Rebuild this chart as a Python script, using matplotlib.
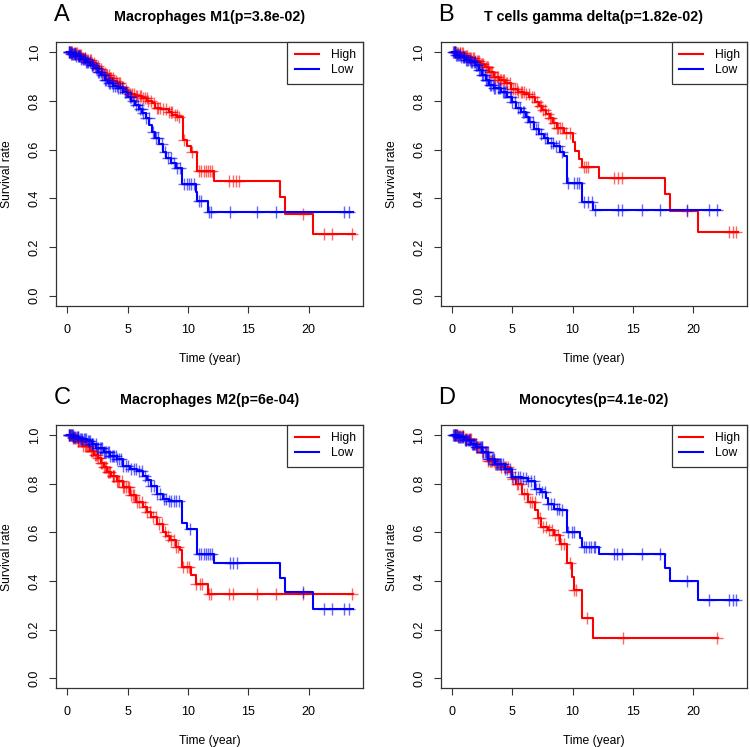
import numpy as np
import matplotlib
matplotlib.use("Agg")
import matplotlib.pyplot as plt
from matplotlib.lines import Line2D

plt.rcParams['font.family'] = ['Liberation Sans', 'DejaVu Sans']

# ---- data ----
letters = ["A", "B", "C", "D"]
titles = ["Macrophages M1(p=3.8e-02)", "T cells gamma delta(p=1.82e-02)",
          "Macrophages M2(p=6e-04)", "Monocytes(p=4.1e-02)"]

# panel A
a_high_t = [0, 0.4, 0.8, 1.2, 1.6, 2.0, 2.3, 2.6, 2.9, 3.2, 3.5, 3.8, 4.1, 4.4, 4.7, 5.0, 5.6, 6.2, 6.6,
            7.0, 7.3, 7.8, 8.4, 8.7, 9.1, 9.56, 9.94, 10.25, 10.72, 12.18, 17.62, 18.06, 20.38]
a_high_s = [1.0, 0.995, 0.988, 0.978, 0.968, 0.955, 0.943, 0.93, 0.915, 0.905, 0.895, 0.882, 0.872, 0.858,
            0.845, 0.828, 0.822, 0.81, 0.8, 0.79, 0.772, 0.765, 0.755, 0.742, 0.735, 0.64, 0.615, 0.59,
            0.514, 0.473, 0.405, 0.336, 0.253]
a_high_end = 23.8
a_high_cens = [0.15, 0.22, 0.3, 0.36, 0.42, 0.55, 0.62, 0.7, 0.78, 0.88, 0.95, 1.02, 1.1, 1.25, 1.33, 1.42,
               1.5, 1.6, 1.7, 1.85, 1.95, 2.05, 2.2, 2.3, 2.4, 2.55, 2.65, 2.75, 2.95, 3.1, 3.2, 3.3,
               3.45, 3.55, 3.65, 3.78, 3.9, 4.05, 4.15, 4.25, 4.38, 4.5, 4.65, 4.85, 5.1, 5.22, 5.35,
               5.55, 5.68, 5.8, 6.0, 6.12, 6.25, 6.45, 6.58, 6.7, 6.95, 7.15, 7.4, 7.52, 7.65, 7.9,
               8.2, 8.45, 8.55, 8.65, 8.9, 9.05, 9.25, 9.7, 10.3, 10.9, 11.1, 11.3, 11.5, 11.65, 11.85,
               12.0, 13.4, 13.75, 13.95, 14.2, 19.5, 21.3, 21.9, 23.6]

a_low_t = [0, 0.3, 0.7, 1.1, 1.5, 1.9, 2.2, 2.5, 2.8, 3.1, 3.4, 3.8, 4.2, 4.6, 5.0, 5.3, 5.6, 5.9, 6.2,
           6.5, 6.8, 7.0, 7.3, 7.6, 7.9, 8.2, 8.6, 9.0, 9.53, 10.64, 10.75, 11.65]
a_low_s = [1.0, 0.993, 0.983, 0.972, 0.96, 0.948, 0.935, 0.92, 0.905, 0.885, 0.872, 0.862, 0.852, 0.838,
           0.818, 0.8, 0.782, 0.768, 0.75, 0.728, 0.7, 0.672, 0.648, 0.622, 0.59, 0.565, 0.545, 0.525,
           0.458, 0.424, 0.387, 0.343]
a_low_end = 23.7
a_low_cens = [0.1, 0.16, 0.2, 0.27, 0.32, 0.4, 0.45, 0.52, 0.6, 0.66, 0.72, 0.85, 0.93, 1.0, 1.08, 1.15,
              1.3, 1.36, 1.42, 1.58, 1.65, 1.72, 1.88, 2.0, 2.08, 2.15, 2.35, 2.42, 2.5, 2.65, 2.78,
              2.85, 3.0, 3.12, 3.2, 3.35, 3.45, 3.55, 3.7, 3.82, 3.95, 4.1, 4.22, 4.35, 4.55, 4.75, 4.9,
              5.15, 5.25, 5.4, 5.65, 5.85, 6.05, 6.15, 6.3, 6.55, 6.75, 7.1, 7.35, 7.55, 7.85, 8.1,
              8.35, 8.55, 8.8, 9.1, 9.3, 9.67, 9.9, 10.08, 10.28, 10.5, 10.9, 11.1, 11.77, 11.9, 13.48,
              15.75, 17.27, 22.95, 23.34]

# panel B
b_high_t = [0, 0.4, 0.9, 1.4, 1.9, 2.3, 2.7, 3.1, 3.5, 3.9, 4.4, 4.9, 5.5, 6.0, 6.4, 6.9, 7.2, 7.5, 7.8,
            8.1, 8.4, 8.7, 9.3, 10.0, 10.23, 10.57, 10.76, 12.22, 17.68, 18.12, 20.44]
b_high_s = [1.0, 0.995, 0.985, 0.975, 0.965, 0.953, 0.94, 0.92, 0.9, 0.885, 0.872, 0.848, 0.838, 0.828,
            0.815, 0.797, 0.78, 0.762, 0.745, 0.728, 0.71, 0.69, 0.667, 0.63, 0.595, 0.561, 0.53, 0.485,
            0.417, 0.346, 0.26]
b_high_end = 23.76
b_high_cens = [0.2, 0.28, 0.35, 0.42, 0.5, 0.62, 0.7, 0.8, 0.88, 0.95, 1.1, 1.16, 1.22, 1.4, 1.48, 1.55,
               1.7, 1.8, 1.9, 2.05, 2.15, 2.25, 2.4, 2.5, 2.6, 2.8, 2.88, 2.95, 3.15, 3.22, 3.3, 3.5,
               3.6, 3.7, 3.85, 3.95, 4.05, 4.2, 4.3, 4.45, 4.6, 4.8, 4.9, 5.05, 5.25, 5.35, 5.5, 5.7,
               5.82, 5.95, 6.15, 6.35, 6.6, 6.8, 7.05, 7.3, 7.42, 7.55, 7.75, 8.0, 8.12, 8.25, 8.45,
               8.7, 8.82, 8.95, 9.15, 9.45, 9.75, 10.95, 11.12, 11.3, 13.47, 13.8, 14.08, 19.5, 23.0,
               23.35, 23.54]

b_low_t = [0, 0.3, 0.7, 1.1, 1.5, 1.9, 2.2, 2.5, 2.8, 3.1, 3.5, 4.1, 4.6, 5.0, 5.3, 5.7, 6.1, 6.4, 6.8,
           7.2, 7.6, 8.0, 8.5, 9.0, 9.3, 9.52, 10.76, 11.7]
b_low_s = [1.0, 0.99, 0.98, 0.968, 0.958, 0.946, 0.925, 0.905, 0.885, 0.865, 0.855, 0.838, 0.818, 0.795,
           0.77, 0.756, 0.735, 0.715, 0.685, 0.665, 0.648, 0.627, 0.613, 0.59, 0.572, 0.462, 0.385, 0.353]
b_low_end = 22.24
b_low_cens = [0.1, 0.16, 0.22, 0.28, 0.35, 0.42, 0.48, 0.6, 0.68, 0.75, 0.9, 0.96, 1.02, 1.18, 1.25,
              1.32, 1.48, 1.56, 1.65, 1.8, 1.88, 1.95, 2.1, 2.2, 2.3, 2.45, 2.52, 2.6, 2.75, 2.82, 2.9,
              3.05, 3.15, 3.25, 3.4, 3.5, 3.6, 3.8, 3.9, 4.0, 4.2, 4.3, 4.4, 4.55, 4.8, 4.9, 5.0, 5.2,
              5.45, 5.6, 5.85, 6.0, 6.25, 6.5, 6.7, 6.95, 7.15, 7.4, 7.7, 7.9, 8.2, 8.4, 8.65, 8.85,
              9.1, 9.6, 10.15, 10.35, 10.54, 10.95, 11.25, 11.6, 11.87, 13.8, 14.08, 15.74, 17.26,
              19.53, 21.35, 21.97]

# panel C
c_high_t = [0, 0.4, 0.8, 1.3, 1.9, 2.2, 2.5, 2.8, 3.0, 3.3, 3.6, 4.1, 4.6, 5.2, 5.7, 6.3, 6.6, 6.9, 7.4,
            7.9, 8.2, 8.5, 9.0, 9.3, 9.47, 10.25, 10.64, 11.68]
c_high_s = [1.0, 0.99, 0.975, 0.957, 0.936, 0.92, 0.905, 0.885, 0.868, 0.85, 0.834, 0.813, 0.786, 0.752,
            0.725, 0.704, 0.685, 0.663, 0.636, 0.6, 0.585, 0.568, 0.541, 0.527, 0.459, 0.425, 0.388, 0.347]
c_high_end = 23.7
c_high_cens = [0.15, 0.22, 0.3, 0.38, 0.45, 0.58, 0.65, 0.7, 0.85, 0.92, 1.0, 1.15, 1.22, 1.3, 1.45,
               1.52, 1.6, 1.75, 1.82, 1.92, 2.05, 2.15, 2.25, 2.4, 2.48, 2.55, 2.7, 2.8, 2.9, 3.05,
               3.12, 3.2, 3.4, 3.48, 3.55, 3.75, 3.82, 3.9, 4.1, 4.2, 4.3, 4.5, 4.6, 4.7, 4.9, 5.0, 5.1,
               5.3, 5.4, 5.5, 5.75, 5.95, 6.15, 6.4, 6.6, 6.85, 7.1, 7.35, 7.6, 7.85, 8.1, 8.3, 8.55,
               8.8, 9.0, 9.2, 9.6, 9.9, 10.1, 10.7, 10.98, 11.14, 11.77, 11.9, 13.4, 13.75, 15.75, 17.3,
               19.5, 23.6]

c_low_t = [0, 0.5, 1.0, 1.6, 2.0, 2.4, 3.0, 3.5, 4.1, 4.6, 5.2, 5.8, 6.3, 6.6, 6.9, 7.4, 7.9, 8.4, 9.47,
           9.94, 10.72, 12.18, 17.62, 18.06, 20.38]
c_low_s = [1.0, 0.993, 0.985, 0.977, 0.963, 0.949, 0.929, 0.915, 0.902, 0.875, 0.861, 0.854, 0.834, 0.815,
           0.793, 0.759, 0.738, 0.728, 0.64, 0.613, 0.511, 0.473, 0.412, 0.353, 0.285]
c_low_end = 23.7
c_low_cens = [0.1, 0.16, 0.22, 0.3, 0.36, 0.44, 0.5, 0.58, 0.65, 0.8, 0.86, 0.92, 1.08, 1.15, 1.22, 1.38,
              1.45, 1.52, 1.7, 1.78, 1.85, 2.0, 2.08, 2.15, 2.35, 2.42, 2.5, 2.7, 2.78, 2.85, 3.0, 3.1,
              3.2, 3.35, 3.45, 3.55, 3.7, 3.8, 3.9, 4.05, 4.15, 4.25, 4.45, 4.65, 4.85, 5.05, 5.3, 5.5,
              5.7, 5.95, 6.2, 6.4, 6.7, 6.95, 7.2, 7.45, 7.7, 8.0, 8.2, 8.45, 8.6, 8.8, 9.0, 9.25,
              10.2, 10.9, 11.1, 11.3, 11.5, 11.65, 11.85, 12.0, 13.5, 13.75, 14.05, 19.5, 21.3, 21.9,
              22.95, 23.36]

# panel D
d_high_t = [0, 0.5, 1.0, 1.6, 2.0, 2.5, 3.0, 3.6, 4.1, 4.7, 5.0, 5.3, 5.8, 6.3, 6.9, 7.1, 7.4, 8.0, 8.5,
            9.0, 9.52, 9.99, 10.15, 10.76, 11.7]
d_high_s = [1.0, 0.995, 0.985, 0.963, 0.952, 0.929, 0.895, 0.881, 0.868, 0.847, 0.82, 0.8, 0.759, 0.725,
            0.691, 0.66, 0.622, 0.609, 0.588, 0.554, 0.473, 0.418, 0.364, 0.248, 0.166]
d_high_end = 22.1
d_high_cens = [0.2, 0.28, 0.35, 0.42, 0.5, 0.58, 0.65, 0.8, 0.88, 0.95, 1.1, 1.18, 1.25, 1.4, 1.48,
               1.55, 1.72, 1.8, 1.9, 2.1, 2.18, 2.25, 2.45, 2.52, 2.6, 2.8, 2.9, 3.0, 3.15, 3.25, 3.35,
               3.5, 3.6, 3.7, 3.9, 4.0, 4.1, 4.3, 4.4, 4.5, 4.65, 4.85, 5.1, 5.35, 5.5, 5.75, 6.0, 6.2,
               6.45, 6.65, 6.85, 7.1, 7.3, 7.55, 7.8, 8.05, 8.3, 8.55, 8.8, 9.05, 9.3, 9.8, 10.15,
               10.3, 11.22, 14.19, 21.97]

d_low_t = [0, 0.5, 1.0, 1.6, 2.0, 2.5, 3.0, 3.6, 4.4, 4.95, 5.8, 6.3, 6.9, 7.4, 7.8, 8.0, 8.5, 9.0, 9.52,
           10.62, 10.76, 12.23, 17.68, 18.12, 20.44]
d_low_s = [1.0, 0.993, 0.982, 0.963, 0.952, 0.929, 0.902, 0.881, 0.861, 0.827, 0.824, 0.813, 0.779, 0.766,
           0.74, 0.718, 0.697, 0.691, 0.602, 0.575, 0.54, 0.511, 0.452, 0.398, 0.32]
d_low_end = 23.76
d_low_cens = [0.1, 0.16, 0.22, 0.28, 0.35, 0.42, 0.5, 0.56, 0.62, 0.75, 0.82, 0.9, 1.05, 1.12, 1.2,
              1.35, 1.42, 1.5, 1.65, 1.72, 1.8, 1.95, 2.02, 2.1, 2.3, 2.38, 2.45, 2.6, 2.7, 2.8, 2.95,
              3.02, 3.1, 3.3, 3.38, 3.45, 3.65, 3.72, 3.8, 4.0, 4.1, 4.2, 4.4, 4.6, 4.8, 5.0, 5.2,
              5.45, 5.65, 5.9, 6.1, 6.3, 6.55, 6.8, 7.0, 7.25, 7.5, 7.75, 8.0, 8.25, 8.45, 8.7, 8.9,
              9.15, 9.65, 9.93, 10.15, 10.95, 11.15, 11.35, 11.55, 11.75, 11.9, 13.47, 13.67, 14.08,
              15.74, 17.26, 19.53, 21.35, 23.0, 23.35, 23.54]

panels = [
    (a_high_t, a_high_s, a_high_end, a_high_cens, a_low_t, a_low_s, a_low_end, a_low_cens),
    (b_high_t, b_high_s, b_high_end, b_high_cens, b_low_t, b_low_s, b_low_end, b_low_cens),
    (c_high_t, c_high_s, c_high_end, c_high_cens, c_low_t, c_low_s, c_low_end, c_low_cens),
    (d_high_t, d_high_s, d_high_end, d_high_cens, d_low_t, d_low_s, d_low_end, d_low_cens),
]

# axes boxes in figure fraction (left, bottom, width, height)
boxes = [(0.0747, 0.5904, 0.4093, 0.3534), (0.5876, 0.5904, 0.4088, 0.3534),
         (0.0747, 0.0786, 0.4093, 0.3524), (0.5876, 0.0786, 0.4088, 0.3524)]


def draw_km(ax, t, s, end, cens, color):
    t = np.array(t)
    s = np.array(s)
    tt = np.append(t, end)
    ss = np.append(s, s[-1])
    ax.step(tt, ss, where='post', color=color, lw=1.5)
    c = np.array(cens)
    idx = np.searchsorted(t, c, side='right') - 1
    ax.plot(c, s[idx], ls='none', marker='+', ms=8, mew=1.0, color=color, alpha=0.6)


fig = plt.figure(figsize=(7.5, 7.47), dpi=100)

for i in range(4):
    ax = fig.add_axes(boxes[i])
    ht, hs, he, hc, lt, ls_, le, lc = panels[i]
    draw_km(ax, ht, hs, he, hc, '#FF0000')
    draw_km(ax, lt, ls_, le, lc, '#0000FF')

    ax.set_xlim(-0.94, 24.5)
    ax.set_ylim(-0.042, 1.042)
    ax.set_xticks([0, 5, 10, 15, 20])
    ax.set_yticks([0.0, 0.2, 0.4, 0.6, 0.8, 1.0])
    ax.set_yticklabels(['0.0', '0.2', '0.4', '0.6', '0.8', '1.0'], rotation=90, va='center')
    ax.tick_params(labelsize=9, length=5, width=0.8, color='#333333')
    ax.tick_params(axis='x', pad=8)
    ax.tick_params(axis='y', pad=6)
    for sp in ax.spines.values():
        sp.set_color('#333333')
        sp.set_linewidth(0.9)
    ax.set_xlabel('Time (year)', fontsize=8.7, labelpad=12)
    ax.set_ylabel('Survival rate', fontsize=8.7, labelpad=11)
    ax.set_title(titles[i], fontsize=10.3, fontweight='bold', pad=15)

    bb = boxes[i]
    fig.text(bb[0] - 0.003, bb[1] + bb[3] + 0.036, letters[i], fontsize=17, ha='left', va='center')

    handles = [Line2D([], [], color='#FF0000', lw=1.5), Line2D([], [], color='#0000FF', lw=1.5)]
    leg = ax.legend(handles, ['High', 'Low'], loc='upper right', borderaxespad=0, fontsize=8.7,
                    fancybox=False, framealpha=1, edgecolor='#333333', handlelength=2.0,
                    handletextpad=1.0, borderpad=0.6, labelspacing=0.25)
    leg.get_frame().set_linewidth(0.9)

fig.savefig('out.png', dpi=100)
